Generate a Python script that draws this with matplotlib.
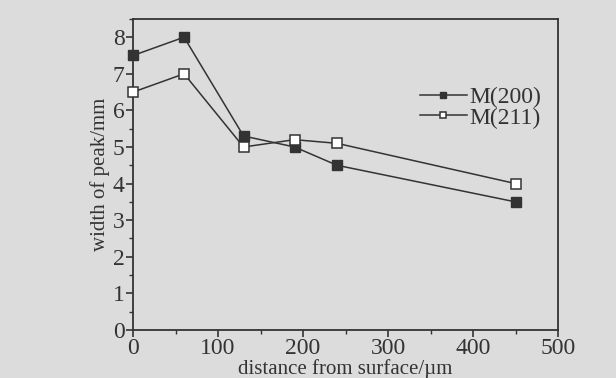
import matplotlib
matplotlib.use("Agg")
import matplotlib.pyplot as plt
from matplotlib.ticker import MultipleLocator

# data
distance = [0, 60, 130, 190, 240, 450]
m200 = [7.5, 8.0, 5.3, 5.0, 4.5, 3.5]
m211 = [6.5, 7.0, 5.0, 5.2, 5.1, 4.0]

plt.rcParams['font.family'] = ['Liberation Serif', 'DejaVu Serif']
bg = '#dcdcdc'
ink = '#333333'

fig = plt.figure(figsize=(6.16, 3.78), dpi=100, facecolor=bg)
ax = fig.add_axes([0.216, 0.127, 0.690, 0.823], facecolor=bg)

ax.plot(distance, m200, color=ink, lw=1.1, marker='s', ms=6.5,
        mfc=ink, mec=ink, label='M(200)', clip_on=False, zorder=3)
ax.plot(distance, m211, color=ink, lw=1.1, marker='s', ms=6.5,
        mfc='white', mec=ink, mew=1.1, label='M(211)', clip_on=False, zorder=3)

ax.set_xlim(0, 500)
ax.set_ylim(0, 8.5)
ax.xaxis.set_major_locator(MultipleLocator(100))
ax.xaxis.set_minor_locator(MultipleLocator(50))
ax.yaxis.set_major_locator(MultipleLocator(1))
ax.yaxis.set_minor_locator(MultipleLocator(0.5))
ax.tick_params(which='both', direction='out', colors=ink, labelsize=17)
ax.tick_params(which='major', length=5, width=1.2, pad=1)
ax.tick_params(which='minor', length=3, width=1.0)
for s in ax.spines.values():
    s.set_color(ink)
    s.set_linewidth(1.3)

ax.set_xlabel('distance from surface/µm', fontsize=15, color=ink, labelpad=0)
ax.set_ylabel('width of peak/mm', fontsize=15, color=ink, labelpad=2)

ax.legend(loc='upper right', bbox_to_anchor=(1.01, 0.85), frameon=False,
          fontsize=17, handlelength=2.0, handletextpad=0.1,
          labelspacing=-0.05, labelcolor=ink, markerscale=0.75)

fig.savefig('out.png', dpi=100, facecolor=bg)
